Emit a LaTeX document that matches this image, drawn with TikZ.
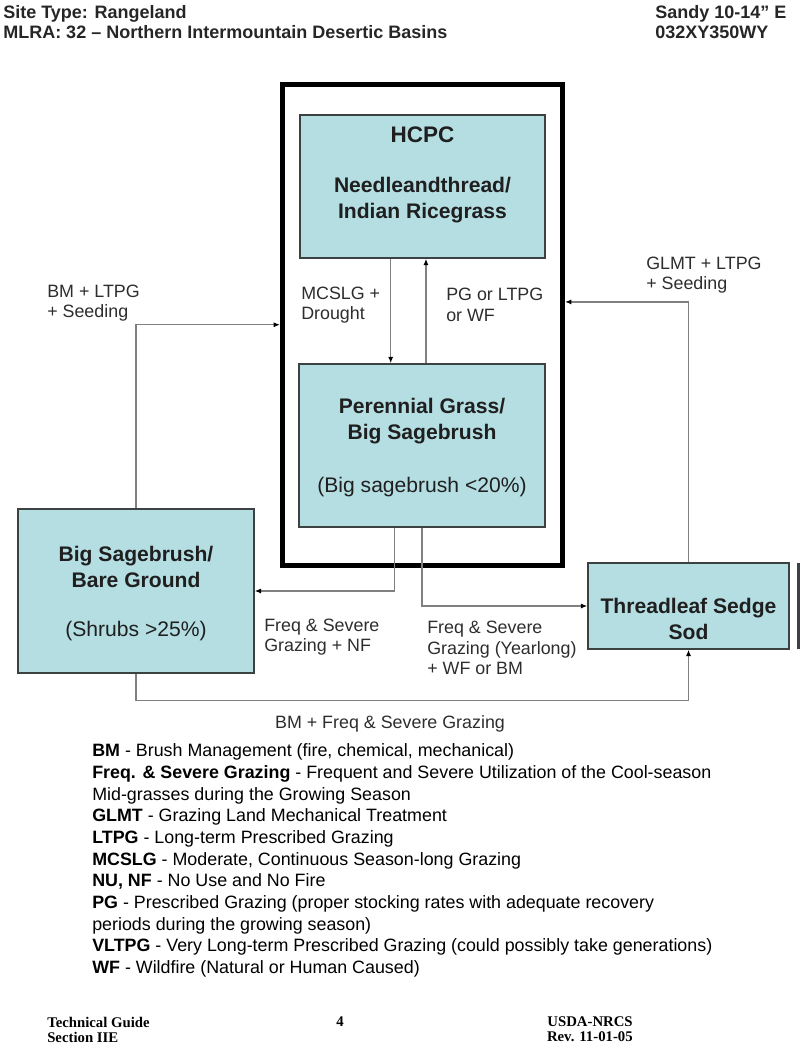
\documentclass[tikz,border=0pt]{standalone}
\usepackage{fontspec}
\setmainfont{Liberation Sans}
\newfontfamily\footfont{Liberation Serif}
\usetikzlibrary{arrows.meta,calc}

\definecolor{stateblue}{RGB}{181,222,227}
\definecolor{boxline}{RGB}{60,66,66}
\definecolor{flowgray}{RGB}{128,128,128}
\definecolor{labelgray}{RGB}{45,45,45}

\tikzset{
  statebox/.style={draw=boxline, line width=1pt, fill=stateblue, inner sep=0pt},
  boxtitle/.style={font=\fontsize{15}{18.5}\selectfont\bfseries, align=center, text=black!88},
  boxnote/.style={font=\fontsize{15}{18}\selectfont, align=center, text=black!88},
  flow/.style={draw=flowgray, line width=0.9pt, -{Latex[color=black,length=4.5pt,width=3.6pt]}},
  flowlabel/.style={font=\fontsize{12.7}{14.5}\selectfont, align=left, anchor=west, text=labelgray, inner sep=0pt},
  headtext/.style={font=\fontsize{12.8}{14.7}\selectfont\bfseries, align=left, anchor=west, text=black!85, inner sep=0pt},
  legendtext/.style={font=\fontsize{12.7}{15.4}\selectfont, align=left, anchor=west, inner sep=0pt},
  foottext/.style={font=\footfont\fontsize{10.5}{10.6}\selectfont\bfseries, inner sep=0pt},
}

\begin{document}
\begin{tikzpicture}[x=0.025cm, y=-0.025cm]
\useasboundingbox (0,0) rectangle (800,1052);

% page header
\node[headtext] (site) at (3,22) {Site Type: Rangeland\\MLRA: 32 – Northern Intermountain Desertic Basins};
\node[headtext] (sandy) at (655,22) {Sandy 10-14” E\\032XY350WY};

% reference state
\node[draw, line width=3.5pt, minimum width=7cm, minimum height=12.0125cm, inner sep=0pt] (frame) at (422.5,324.75) {};

% states
\node[statebox, minimum width=6.125cm, minimum height=3.575cm] (hcpc) at (422.5,186.5) {};
\node[font=\fontsize{16}{19}\selectfont\bfseries, text=black!88] (hcpctitle) at (422.5,135) {HCPC};
\node[boxtitle] (hcpcname) at (422.5,200.5) {Needleandthread/\\Indian Ricegrass};

\node[statebox, minimum width=6.15cm, minimum height=4.075cm] (pgbs) at (422,445.5) {};
\node[boxtitle] (pgbsname) at (422,421.5) {Perennial Grass/\\Big Sagebrush};
\node[boxnote] (pgbsnote) at (422,487) {(Big sagebrush <20\%)};

\node[statebox, minimum width=5.9cm, minimum height=4.1cm] (bsbg) at (136,591) {};
\node[boxtitle] (bsbgname) at (136,566.5) {Big Sagebrush/\\Bare Ground};
\node[boxnote] (bsbgnote) at (136,631) {(Shrubs >25\%)};

\node[statebox, minimum width=5.025cm, minimum height=2.15cm] (tss) at (688.5,606) {};
\node[boxtitle] (tssname) at (688.5,619) {Threadleaf Sedge\\Sod};

% edge of a box cut off by the page
\draw[boxline, line width=1.5pt] (798.5,563) -- (798.5,649);

% transitions
\coordinate (down) at ($(hcpc.south west)!0.371!(hcpc.south east)$);
\coordinate (up) at ($(pgbs.north west)!0.516!(pgbs.north east)$);
\coordinate (toleft) at ($(pgbs.south west)!0.39!(pgbs.south east)$);
\coordinate (glmt) at ($(frame.north east)!0.453!(frame.south east)$);

\draw[flow] (down) -- (down |- pgbs.north);
\draw[flow] (up) -- (up |- hcpc.south);
\draw[flow] (toleft) |- (bsbg.east);
\draw[flow] (pgbs.south) |- (tss.west);
\draw[flow] (bsbg.north) |- (frame.west);
\draw[flow] (tss.north) |- (glmt);
\draw[flow] (bsbg.south) -- ++(0,27) -| (tss.south);

\node[flowlabel] (mcslg) at (301,305) {MCSLG +\\Drought};
\node[flowlabel] (pgwf) at (446,305) {PG or LTPG\\or WF};
\node[flowlabel] (bmltpg) at (47,303) {BM + LTPG\\+ Seeding};
\node[flowlabel] (glmtltpg) at (646,275) {GLMT + LTPG\\+ Seeding};
\node[flowlabel] (fsgnf) at (264,637) {Freq \& Severe\\Grazing + NF};
\node[flowlabel] (fsgyl) at (427,648) {Freq \& Severe\\Grazing (Yearlong)\\+ WF or BM};
\node[flowlabel, anchor=center] (bmfsg) at (390,724) {BM + Freq \& Severe Grazing};

% legend
\node[legendtext] (legend) at (92,860.5) {\textbf{BM} - Brush Management (fire, chemical, mechanical)\\
\textbf{Freq. \& Severe Grazing} - Frequent and Severe Utilization of the Cool-season\\
Mid-grasses during the Growing Season\\
\textbf{GLMT} - Grazing Land Mechanical Treatment\\
\textbf{LTPG} - Long-term Prescribed Grazing\\
\textbf{MCSLG} - Moderate, Continuous Season-long Grazing\\
\textbf{NU, NF} - No Use and No Fire\\
\textbf{PG} - Prescribed Grazing (proper stocking rates with adequate recovery\\
periods during the growing season)\\
\textbf{VLTPG} - Very Long-term Prescribed Grazing (could possibly take generations)\\
\textbf{WF} - Wildfire (Natural or Human Caused)};

% page footer
\node[foottext, anchor=west, align=left] (guide) at (47,1029.5) {Technical Guide\\Section IIE};
\node[foottext] (page) at (340,1022) {4};
\node[foottext, anchor=east, align=right] (agency) at (633,1029.5) {USDA-NRCS\\Rev. 11-01-05};
\end{tikzpicture}
\end{document}
